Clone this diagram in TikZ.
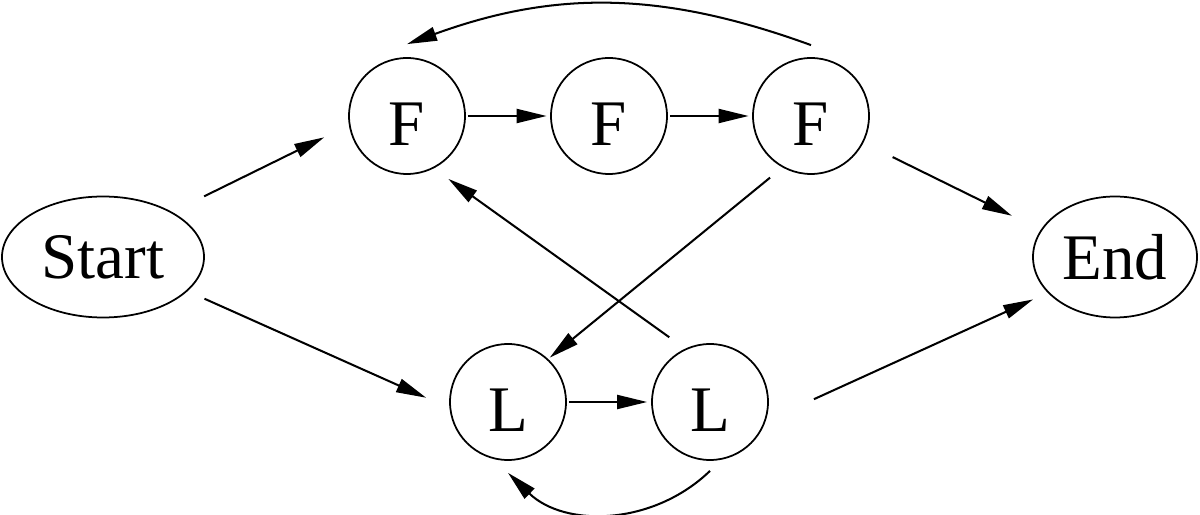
\documentclass[tikz,border=0pt]{standalone}
\usepackage{fontspec}
\setmainfont{Liberation Serif}
\usetikzlibrary{arrows.meta,shapes.geometric}
\tikzset{
  transarrow/.style={-{Triangle[length=0.6cm, width=0.28cm]}, line width=1.15pt},
  statenode/.style={draw, circle, line width=1pt, minimum size=2.32cm, inner sep=0pt, text height=1.2cm, text depth=0pt},
  termnode/.style={draw, ellipse, line width=1pt, minimum height=2.42cm, inner sep=0pt}
}

\begin{document}
\begin{tikzpicture}[every node/.style={font=\fontsize{37}{40}\selectfont}]
      \useasboundingbox (0,0) rectangle (24,10.28);
      \node[termnode, minimum width=4.04cm] (start) at (2.06,5.14) {Start};
      \node[statenode] (f1) at (8.14,7.96) {F};
      \node[statenode] (f2) at (12.18,7.96) {F};
      \node[statenode] (f3) at (16.22,7.96) {F};
      \node[statenode] (l1) at (10.16,2.24) {L};
      \node[statenode] (l2) at (14.20,2.24) {L};
      \node[termnode, minimum width=3.28cm] (finish) at (22.30,5.14) {End};
      \draw[transarrow, shorten <=0.71cm, shorten >=0.55cm] (start.33) -- (f1.189);
      \draw[transarrow, shorten <=0.37cm, shorten >=0.51cm] (start.-22) -- (l1.186);
      \draw[transarrow, shorten <=0.04cm, shorten >=0.07cm] (f1.east) -- (f2.west);
      \draw[transarrow, shorten <=0.04cm, shorten >=0.07cm] (f2.east) -- (f3.west);
      \draw[transarrow, shorten <=0.04cm, shorten >=0.08cm] (l1.east) -- (l2.west);
      \draw[transarrow, shorten <=0.65cm, shorten >=0.64cm] (f3.-27) -- (finish.160);
      \draw[transarrow, shorten <=1.06cm, shorten >=0.32cm] (l2.-19) -- (finish.208);
      \draw[transarrow, shorten <=0.32cm, shorten >=0.04cm] (f3.241) -- (l1.47);
      \draw[transarrow, shorten <=0.39cm, shorten >=0.36cm] (l2.115) -- (f1.-63);
      \draw[transarrow] ([yshift=0.24cm]f3.north) to[out=160, in=20] ([yshift=0.26cm]f1.north);
      \draw[transarrow] ([yshift=-0.2cm]l2.south) to[out=224, in=-44] ([yshift=-0.24cm]l1.south);
    \end{tikzpicture}
\end{document}
